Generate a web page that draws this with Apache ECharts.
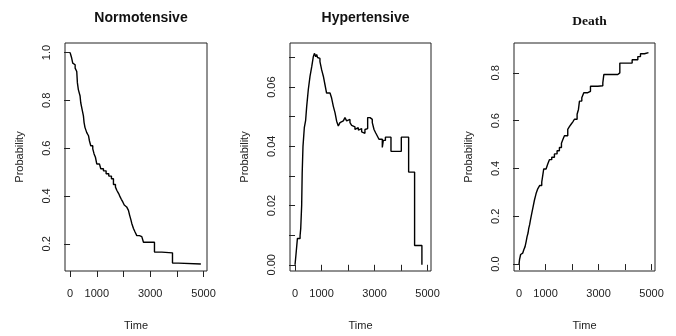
<!DOCTYPE html>
<html>
<head>
<meta charset="utf-8">
<script src="https://cdn.jsdelivr.net/npm/echarts@6/dist/echarts.min.js"></script>
<style>
  html, body { margin: 0; padding: 0; background: #ffffff; }
  #chart { width: 676px; height: 336px; }
</style>
</head>
<body>
<div id="chart"></div>
<script>
// ---- Data ----
const panelTitles = ['Normotensive', 'Hypertensive', 'Death'];

const normTime = [0, 60, 100, 150, 190, 250, 275, 310, 375, 400, 450, 500, 525, 560, 625, 690, 725, 775, 850, 900, 950, 1000, 1100, 1150, 1250, 1350, 1450, 1550, 1625, 1700, 1750, 1820, 1875, 1920, 1975, 2030, 2062, 2120, 2187, 2230, 2280, 2312, 2375, 2430, 2500, 2600, 2687, 2750, 3162, 3437, 3837, 4062, 4900];
const normProb = [1.0, 0.977, 0.956, 0.949, 0.935, 0.921, 0.873, 0.845, 0.818, 0.790, 0.762, 0.735, 0.707, 0.686, 0.665, 0.652, 0.631, 0.610, 0.597, 0.576, 0.562, 0.534, 0.527, 0.514, 0.505, 0.493, 0.483, 0.472, 0.448, 0.437, 0.424, 0.410, 0.396, 0.386, 0.375, 0.362, 0.354, 0.348, 0.340, 0.320, 0.300, 0.285, 0.264, 0.250, 0.234, 0.230, 0.225, 0.206, 0.165, 0.162, 0.119, 0.115, 0.115];

const hyperTime = [0, 40, 90, 190, 215, 250, 270, 300, 350, 400, 440, 500, 565, 630, 690, 730, 780, 815, 850, 880, 940, 1005, 1070, 1130, 1190, 1320, 1380, 1445, 1510, 1570, 1633, 1696, 1759, 1822, 1884, 1947, 2010, 2073, 2136, 2198, 2261, 2324, 2387, 2450, 2513, 2576, 2638, 2701, 2740, 2830, 2915, 2980, 3040, 3104, 3167, 3293, 3330, 3410, 3620, 4010, 4286, 4511, 4787, 4800];
const hyperProb = [0, 0.0039, 0.0089, 0.0098, 0.0123, 0.020, 0.031, 0.040, 0.0463, 0.0488, 0.0535, 0.0591, 0.0636, 0.0669, 0.0703, 0.0714, 0.0703, 0.0710, 0.0700, 0.0697, 0.0686, 0.0658, 0.0636, 0.0608, 0.0580, 0.0582, 0.0563, 0.0535, 0.0513, 0.0485, 0.0469, 0.0480, 0.0486, 0.0491, 0.0497, 0.0486, 0.0491, 0.0480, 0.0471, 0.0466, 0.0457, 0.0463, 0.0455, 0.0460, 0.0449, 0.0444, 0.0457, 0.0460, 0.0497, 0.0491, 0.0480, 0.0457, 0.0446, 0.0435, 0.0424, 0.0396, 0.0420, 0.0431, 0.0383, 0.0431, 0.0313, 0.0065, 0, 0];

const deathTime = [0, 20, 60, 80, 140, 180, 228, 270, 303, 340, 366, 400, 430, 480, 530, 580, 643, 706, 781, 857, 895, 932, 1020, 1083, 1146, 1234, 1335, 1435, 1523, 1600, 1650, 1713, 1838, 1900, 1964, 2030, 2090, 2191, 2242, 2280, 2368, 2443, 2594, 2695, 2972, 3161, 3199, 3727, 3803, 4268, 4482, 4582, 4733, 4884];
const deathProb = [0, 0.02, 0.040, 0.046, 0.050, 0.060, 0.073, 0.095, 0.115, 0.130, 0.149, 0.165, 0.184, 0.212, 0.239, 0.267, 0.295, 0.315, 0.329, 0.343, 0.371, 0.398, 0.405, 0.419, 0.437, 0.447, 0.461, 0.474, 0.488, 0.506, 0.520, 0.537, 0.564, 0.575, 0.585, 0.595, 0.606, 0.627, 0.647, 0.682, 0.696, 0.717, 0.723, 0.744, 0.746, 0.758, 0.793, 0.800, 0.841, 0.855, 0.868, 0.880, 0.885, 0.885];

// Tick values and labels
const xTicks = [0, 1000, 2000, 3000, 4000, 5000];
const xLabels = [0, 1000, 3000, 5000];
const normYTicks = [0.2, 0.4, 0.6, 0.8, 1.0];
const hyperYTicks = [0, 0.01, 0.02, 0.03, 0.04, 0.05, 0.06, 0.07];
const hyperYLabels = [0, 0.02, 0.04, 0.06];
const deathYTicks = [0, 0.2, 0.4, 0.6, 0.8];
const xName = 'Time';
const yName = 'Probability';

// ---- Layout ----
const SANS = '"Liberation Sans", Arial, sans-serif';
const SERIF = '"Liberation Serif", "Times New Roman", serif';
const panels = [
  { left: 65, width: 142, xMin: -190, xMax: 5130, yMin: 0.086, yMax: 1.040, yTicks: normYTicks, yLabels: normYTicks, dec: 1, t: normTime, p: normProb, titleFont: SANS, titleSize: 14, titleTop: 6 },
  { left: 290, width: 141, xMin: -190, xMax: 5130, yMin: -0.0021, yMax: 0.0749, yTicks: hyperYTicks, yLabels: hyperYLabels, dec: 2, t: hyperTime, p: hyperProb, titleFont: SANS, titleSize: 14, titleTop: 6 },
  { left: 514, width: 141, xMin: -190, xMax: 5130, yMin: -0.029, yMax: 0.925, yTicks: deathYTicks, yLabels: deathYTicks, dec: 1, t: deathTime, p: deathProb, titleFont: SERIF, titleSize: 13.5, titleTop: 10 }
];
const TOP = 43, HEIGHT = 230;

const option = {
  animation: false,
  backgroundColor: '#ffffff',
  title: [], grid: [], xAxis: [], yAxis: [], series: []
};

panels.forEach((pn, i) => {
  option.title.push({
    text: panelTitles[i],
    left: pn.left + pn.width / 2,
    top: pn.titleTop,
    textAlign: 'center',
    textStyle: { fontFamily: pn.titleFont, fontWeight: 'bold', fontSize: pn.titleSize, color: '#111' }
  });
  option.grid.push({
    left: pn.left, top: TOP, width: pn.width, height: HEIGHT,
    show: true, borderColor: '#222', borderWidth: 1, backgroundColor: 'transparent',
    containLabel: false
  });
  option.xAxis.push({
    type: 'value', gridIndex: i, min: pn.xMin, max: pn.xMax,
    name: xName, nameLocation: 'middle', nameGap: 49,
    nameTextStyle: { fontFamily: SANS, fontSize: 11, color: '#222' },
    axisLine: { show: false },
    splitLine: { show: false },
    axisTick: { show: true, length: 6, customValues: xTicks, lineStyle: { color: '#222', width: 1 } },
    axisLabel: { show: true, customValues: xLabels, margin: 17, fontFamily: SANS, fontSize: 11, color: '#222',
      formatter: v => String(v) }
  });
  option.yAxis.push({
    type: 'value', gridIndex: i, min: pn.yMin, max: pn.yMax,
    name: yName, nameLocation: 'middle', nameGap: 40, nameRotate: 90,
    nameTextStyle: { fontFamily: SANS, fontSize: 11, color: '#222' },
    axisLine: { show: false },
    splitLine: { show: false },
    axisTick: { show: true, length: 6, customValues: pn.yTicks, lineStyle: { color: '#222', width: 1 } },
    axisLabel: { show: true, customValues: pn.yLabels, rotate: 90, margin: 13, fontFamily: SANS, fontSize: 11, color: '#222',
      formatter: v => v.toFixed(pn.dec) }
  });
  option.series.push({
    type: 'line', xAxisIndex: i, yAxisIndex: i, step: 'end',
    showSymbol: false, symbol: 'none',
    data: pn.t.map((t, k) => [t, pn.p[k]]),
    lineStyle: { color: '#000', width: 1.4 },
    silent: true
  });
});

const chart = echarts.init(document.getElementById('chart'), null, { renderer: 'canvas' });
chart.setOption(option);
</script>
</body>
</html>
